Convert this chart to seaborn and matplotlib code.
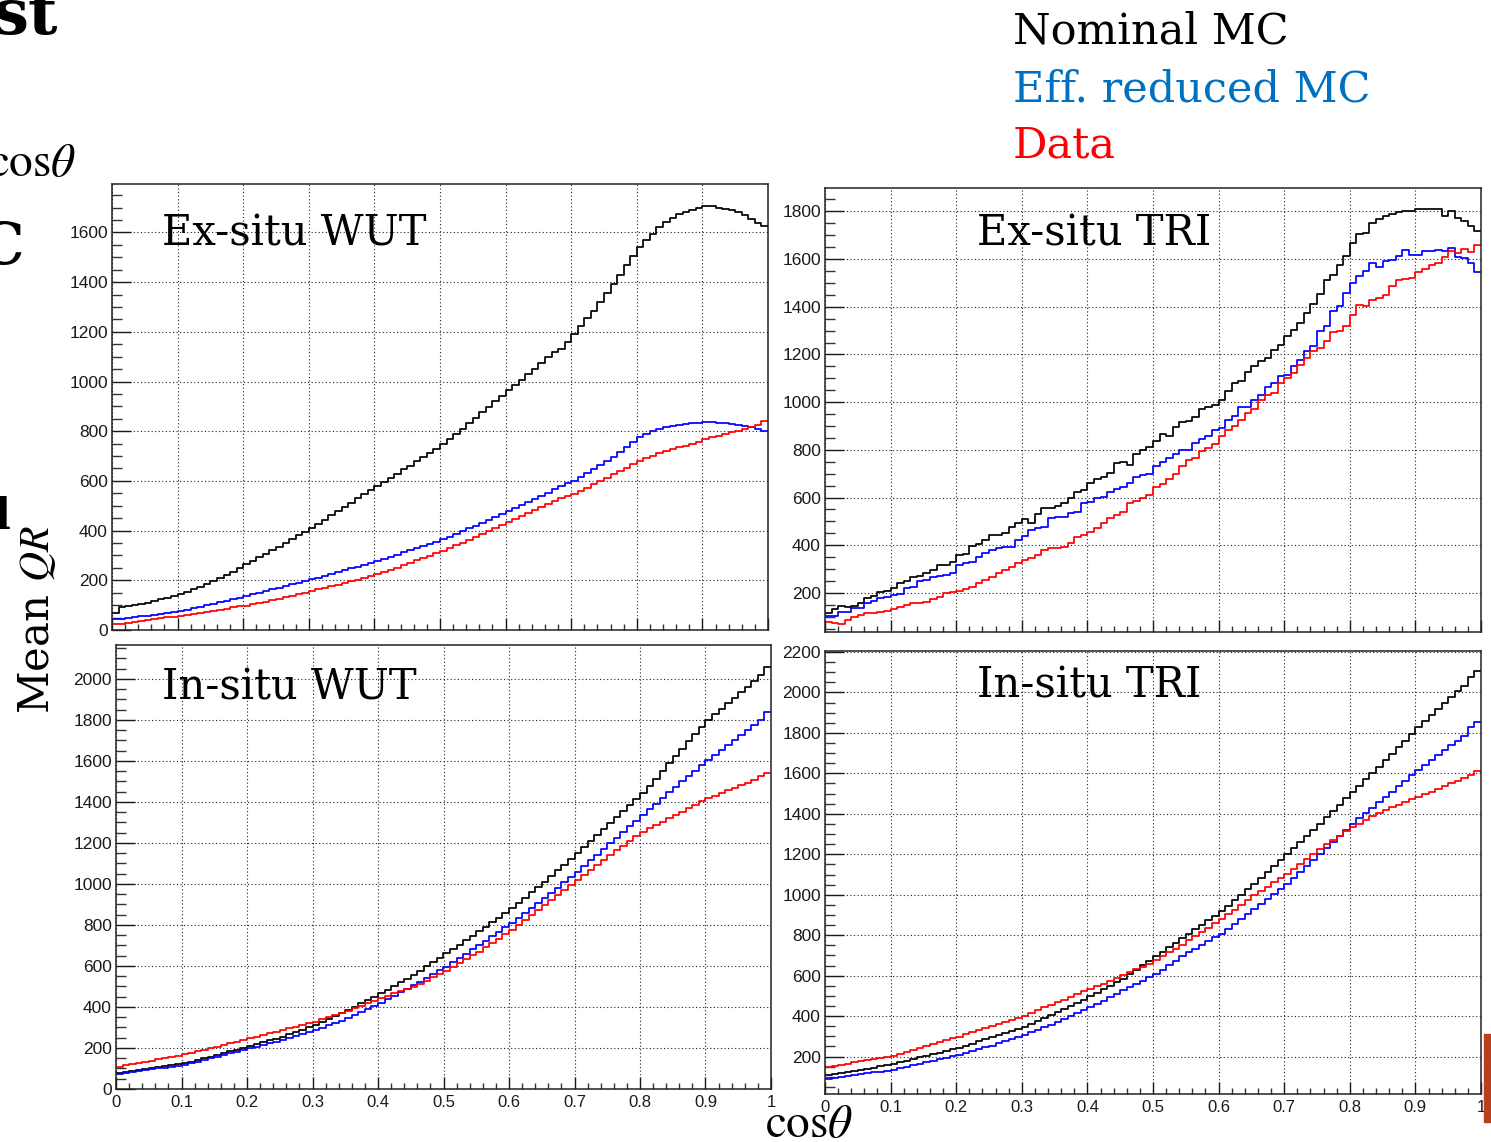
import numpy as np
import matplotlib
matplotlib.use("Agg")
import matplotlib.pyplot as plt
import seaborn as sns
from matplotlib.ticker import MultipleLocator, FuncFormatter
from matplotlib.patches import Rectangle

# ---------------------------------------------------------------------------
# Mean QR profiles in 100 bins of cos(theta), 0..1
# ---------------------------------------------------------------------------
cos_centres = (np.arange(100) + 0.5) / 100.0

ex_wut_nominal = [
    70, 92, 95, 99, 104, 110, 116, 123, 130, 137,
    145, 154, 163, 173, 184, 196, 208, 221, 235, 250,
    265, 278, 292, 306, 322, 336, 350, 366, 382, 396,
    412, 428, 444, 462, 478, 496, 512, 530, 546, 562,
    580, 596, 612, 628, 646, 662, 680, 696, 714, 730,
    748, 768, 790, 810, 832, 854, 876, 898, 920, 942,
    965, 985, 1005, 1030, 1052, 1075, 1098, 1118, 1130, 1160,
    1192, 1225, 1255, 1282, 1320, 1355, 1394, 1430, 1467, 1505,
    1541, 1570, 1595, 1620, 1641, 1660, 1675, 1684, 1691, 1698,
    1706, 1708, 1700, 1695, 1690, 1682, 1670, 1655, 1640, 1624,
]
ex_wut_reduced = [
    43, 46, 49, 52, 55, 58, 61, 65, 69, 73,
    77, 82, 87, 93, 99, 105, 111, 118, 124, 130,
    137, 143, 150, 156, 163, 170, 177, 184, 191, 197,
    204, 211, 218, 225, 233, 240, 248, 255, 263, 270,
    278, 286, 294, 303, 312, 321, 330, 338, 347, 356,
    365, 376, 387, 398, 409, 420, 432, 443, 455, 466,
    478, 490, 502, 514, 527, 540, 553, 566, 578, 590,
    600, 615, 632, 648, 663, 680, 698, 716, 735, 755,
    775, 788, 800, 808, 815, 820, 825, 829, 832, 834,
    836, 836, 835, 833, 829, 826, 822, 815, 808, 800,
]
ex_wut_data = [
    23, 26, 29, 32, 35, 39, 43, 47, 51, 54,
    56, 60, 64, 68, 72, 77, 81, 86, 91, 95,
    97, 103, 108, 114, 120, 126, 132, 138, 144, 150,
    157, 163, 170, 176, 183, 190, 196, 203, 210, 217,
    224, 233, 242, 251, 260, 270, 280, 289, 299, 308,
    318, 329, 341, 352, 364, 376, 388, 400, 411, 423,
    435, 446, 458, 470, 482, 494, 506, 518, 530, 539,
    547, 560, 573, 587, 600, 613, 627, 640, 654, 668,
    681, 691, 701, 711, 721, 728, 735, 742, 748, 758,
    768, 775, 782, 788, 795, 802, 808, 815, 825, 840,
]

ex_tri_nominal = [
    117, 131, 145, 140, 145, 159, 178, 187, 205, 210,
    220, 241, 248, 266, 271, 282, 296, 317, 317, 331,
    359, 364, 397, 406, 422, 443, 443, 450, 476, 492,
    509, 495, 532, 555, 555, 566, 579, 597, 625, 632,
    660, 677, 688, 702, 744, 747, 737, 784, 798, 812,
    835, 868, 859, 896, 915, 919, 938, 971, 980, 989,
    1010, 1045, 1080, 1087, 1125, 1150, 1172, 1185, 1220, 1241,
    1276, 1304, 1332, 1374, 1410, 1452, 1514, 1535, 1577, 1612,
    1668, 1703, 1710, 1752, 1769, 1780, 1790, 1797, 1801, 1800,
    1808, 1808, 1811, 1811, 1780, 1801, 1773, 1759, 1740, 1717,
]
ex_tri_reduced = [
    103, 103, 121, 121, 135, 135, 156, 168, 178, 184,
    191, 196, 219, 226, 248, 254, 268, 271, 275, 282,
    317, 324, 331, 352, 366, 380, 387, 392, 394, 420,
    439, 464, 471, 476, 514, 517, 520, 534, 541, 579,
    583, 597, 604, 625, 635, 646, 660, 688, 695, 700,
    733, 747, 765, 784, 798, 800, 828, 845, 859, 884,
    891, 924, 943, 980, 980, 1010, 1031, 1064, 1080, 1108,
    1115, 1150, 1178, 1213, 1237, 1297, 1318, 1381, 1402, 1458,
    1500, 1528, 1549, 1584, 1568, 1591, 1598, 1612, 1638, 1615,
    1615, 1633, 1633, 1636, 1633, 1647, 1610, 1605, 1582, 1545,
]
ex_tri_data = [
    79, 75, 70, 86, 98, 107, 114, 117, 121, 126,
    131, 142, 149, 156, 156, 163, 173, 184, 198, 205,
    210, 215, 226, 240, 252, 268, 282, 296, 310, 327,
    338, 345, 359, 380, 387, 390, 394, 408, 436, 443,
    457, 471, 492, 514, 527, 541, 576, 587, 597, 611,
    646, 658, 677, 700, 733, 756, 765, 793, 807, 826,
    856, 884, 898, 926, 954, 971, 1010, 1031, 1038, 1080,
    1100, 1122, 1157, 1185, 1213, 1227, 1255, 1293, 1297, 1318,
    1367, 1409, 1402, 1430, 1437, 1451, 1486, 1514, 1517, 1521,
    1545, 1559, 1577, 1584, 1610, 1633, 1624, 1643, 1629, 1661,
]

in_wut_nominal = [
    80, 84, 88, 92, 96, 101, 106, 111, 116, 121,
    125, 133, 141, 149, 157, 166, 175, 184, 192, 201,
    210, 219, 228, 237, 246, 255, 266, 278, 289, 300,
    312, 326, 340, 355, 370, 385, 401, 418, 434, 450,
    467, 485, 503, 521, 538, 556, 577, 598, 620, 641,
    662, 683, 704, 726, 747, 768, 790, 813, 836, 858,
    881, 907, 933, 959, 985, 1011, 1039, 1067, 1094, 1122,
    1150, 1179, 1208, 1238, 1267, 1296, 1325, 1354, 1384, 1413,
    1442, 1478, 1514, 1550, 1588, 1625, 1660, 1695, 1730, 1765,
    1800, 1828, 1855, 1882, 1908, 1935, 1962, 1990, 2018, 2060,
]
in_wut_reduced = [
    73, 78, 82, 87, 91, 96, 100, 104, 108, 113,
    117, 125, 133, 141, 150, 158, 166, 174, 182, 190,
    198, 206, 214, 222, 231, 239, 249, 259, 268, 278,
    288, 299, 311, 322, 334, 345, 360, 375, 390, 405,
    420, 437, 454, 471, 488, 505, 523, 541, 560, 578,
    597, 618, 639, 660, 681, 702, 724, 746, 767, 789,
    811, 835, 859, 883, 907, 930, 956, 982, 1008, 1034,
    1060, 1088, 1115, 1143, 1170, 1198, 1226, 1254, 1281, 1309,
    1337, 1365, 1392, 1420, 1447, 1475, 1501, 1527, 1553, 1579,
    1605, 1629, 1654, 1678, 1703, 1727, 1750, 1773, 1800, 1840,
]
in_wut_data = [
    109, 115, 121, 126, 132, 138, 144, 150, 157, 163,
    169, 177, 184, 192, 199, 207, 215, 223, 231, 239,
    247, 255, 263, 272, 280, 288, 296, 304, 312, 320,
    328, 339, 350, 360, 371, 382, 394, 406, 418, 430,
    442, 454, 466, 477, 488, 499, 514, 529, 545, 560,
    575, 594, 613, 632, 651, 670, 691, 712, 733, 754,
    776, 800, 825, 849, 874, 898, 922, 947, 971, 996,
    1020, 1044, 1068, 1093, 1117, 1141, 1164, 1187, 1209, 1232,
    1255, 1271, 1288, 1304, 1321, 1337, 1353, 1369, 1386, 1402,
    1418, 1431, 1444, 1457, 1470, 1483, 1494, 1506, 1528, 1542,
]

in_tri_nominal = [
    111, 116, 120, 125, 129, 134, 140, 146, 152, 158,
    164, 172, 180, 189, 197, 205, 213, 220, 228, 235,
    243, 254, 264, 275, 285, 296, 306, 317, 327, 338,
    348, 362, 377, 391, 406, 420, 435, 451, 466, 482,
    497, 515, 532, 550, 567, 585, 607, 629, 651, 673,
    695, 717, 740, 762, 785, 807, 829, 852, 874, 897,
    919, 946, 973, 1001, 1028, 1055, 1084, 1113, 1142, 1171,
    1200, 1230, 1261, 1291, 1322, 1352, 1383, 1414, 1446, 1477,
    1508, 1539, 1571, 1602, 1634, 1665, 1697, 1730, 1762, 1795,
    1827, 1857, 1888, 1918, 1949, 1979, 2005, 2032, 2075, 2105,
]
in_tri_reduced = [
    89, 94, 99, 104, 109, 114, 118, 122, 126, 130,
    134, 142, 149, 157, 164, 172, 180, 187, 195, 202,
    210, 219, 228, 236, 245, 254, 265, 276, 287, 298,
    309, 321, 333, 346, 358, 370, 385, 400, 414, 429,
    444, 461, 477, 494, 510, 527, 543, 560, 576, 593,
    609, 630, 652, 673, 695, 716, 734, 752, 771, 789,
    807, 832, 857, 881, 906, 931, 956, 981, 1005, 1030,
    1055, 1085, 1114, 1144, 1173, 1203, 1233, 1263, 1292, 1322,
    1352, 1378, 1405, 1431, 1458, 1484, 1510, 1537, 1563, 1590,
    1616, 1641, 1665, 1690, 1714, 1739, 1762, 1785, 1830, 1852,
]
in_tri_data = [
    147, 153, 159, 165, 171, 177, 183, 188, 194, 199,
    205, 215, 225, 234, 244, 254, 263, 272, 281, 290,
    299, 310, 321, 331, 342, 353, 363, 373, 383, 393,
    403, 416, 429, 443, 456, 469, 482, 495, 509, 522,
    535, 548, 561, 575, 588, 601, 616, 631, 645, 660,
    675, 695, 715, 734, 754, 774, 795, 817, 838, 860,
    881, 904, 927, 951, 974, 997, 1018, 1040, 1061, 1083,
    1104, 1129, 1154, 1178, 1203, 1228, 1249, 1271, 1292, 1314,
    1335, 1352, 1369, 1387, 1404, 1421, 1434, 1446, 1459, 1471,
    1484, 1497, 1510, 1524, 1537, 1550, 1563, 1576, 1590, 1612,
]

panel_titles = ["Ex-situ WUT", "Ex-situ TRI", "In-situ WUT", "In-situ TRI"]
legend_labels = ["Nominal MC", "Eff. reduced MC", "Data"]

# ---------------------------------------------------------------------------
sns.set_style("white")
plt.rcParams["font.family"] = ["Liberation Sans", "DejaVu Sans"]
plt.rcParams["mathtext.fontset"] = "stix"

W, H = 1491, 1142
fig = plt.figure(figsize=(W / 100, H / 100), dpi=100)


def px_axes(left, top, right, bottom):
    return fig.add_axes([left / W, 1 - bottom / H, (right - left) / W, (bottom - top) / H])


def fig_text(x, y, s, **kw):
    return fig.text(x / W, 1 - y / H, s, **kw)


line_colors = ["#000000", "#0000ff", "#ff0000"]

panels = [
    # title, series, frame (l, t, r, b) in px, ylim, title anchor, x labels
    (panel_titles[0], (ex_wut_nominal, ex_wut_reduced, ex_wut_data),
     (112, 184, 768, 630), (0, 1795), (162, 246), False),
    (panel_titles[1], (ex_tri_nominal, ex_tri_reduced, ex_tri_data),
     (825, 188, 1481, 632), (36, 1898), (977, 246), False),
    (panel_titles[2], (in_wut_nominal, in_wut_reduced, in_wut_data),
     (116, 645, 771, 1089), (0, 2165), (162, 700), True),
    (panel_titles[3], (in_tri_nominal, in_tri_reduced, in_tri_data),
     (825, 651, 1481, 1094), (15, 2205), (977, 698), True),
]


def xfmt(v, _):
    v = round(v, 2)
    if abs(v) < 1e-9:
        return "0"
    if abs(v - 1) < 1e-9:
        return "1"
    return f"{v:.1f}"


for title, series, frame, ylim, tpos, show_x in panels:
    ax = px_axes(*frame)
    for values, color in zip(series, line_colors):
        sns.histplot(x=cos_centres, weights=values, bins=100, binrange=(0, 1),
                     element="step", fill=False, color=color, linewidth=1.25,
                     ax=ax)
    ax.set_xlim(0, 1)
    ax.set_ylim(*ylim)
    ax.set_xlabel("")
    ax.set_ylabel("")

    ax.xaxis.set_major_locator(MultipleLocator(0.1))
    ax.xaxis.set_minor_locator(MultipleLocator(0.02))
    ax.yaxis.set_major_locator(MultipleLocator(200))
    ax.yaxis.set_minor_locator(MultipleLocator(50))
    ax.xaxis.set_major_formatter(FuncFormatter(xfmt))

    ax.grid(True, which="major", color="#222222", linestyle=(0, (1, 2.2)),
            linewidth=0.8)
    ax.set_axisbelow(True)

    ax.tick_params(axis="y", which="major", direction="in", length=13.5,
                   width=1.0, labelsize=12.5, pad=3, colors="#1a1a1a",
                   right=False, left=True)
    ax.tick_params(axis="y", which="minor", direction="in", length=7,
                   width=1.0, right=False, left=True, colors="#333333")
    ax.tick_params(axis="x", which="major", direction="in", length=9,
                   width=1.0, labelsize=12, pad=4, colors="#1a1a1a",
                   top=False, bottom=True, labelbottom=show_x)
    ax.tick_params(axis="x", which="minor", direction="in", length=4.5,
                   width=1.0, top=False, bottom=True, colors="#333333")
    for sp in ax.spines.values():
        sp.set_visible(True)
        sp.set_color("#222222")
        sp.set_linewidth(1.1)

    fig_text(tpos[0], tpos[1], title, family="DejaVu Serif", fontsize=30,
             color="black", ha="left", va="baseline")

# legend-style labels at the top right
legend_colors = ["#000000", "#0070c0", "#ff0000"]
for label, color, yb in zip(legend_labels, legend_colors, [44, 102, 158]):
    fig_text(1013, yb, label, family="DejaVu Serif", fontsize=31,
             color=color, ha="left", va="baseline")

# axis titles shared by the four panels
fig_text(37, 620, r"Mean $QR$", family="DejaVu Serif", fontsize=30,
         rotation=90, ha="center", va="center", color="black")
fig_text(765, 1137, r"$\mathrm{cos}\theta$", fontsize=34, ha="left",
         va="baseline", color="black")

# neighbouring slide content cut by the figure border
fig_text(-12, 176, r"$\mathrm{cos}\theta$", fontsize=34, ha="left",
         va="baseline", color="black")
fig_text(-8, 34, "st", family="DejaVu Serif", fontweight="bold",
         fontsize=46, ha="left", va="baseline", color="black")
fig_text(-22, 264, "C", family="DejaVu Serif", fontweight="bold",
         fontsize=42, ha="left", va="baseline", color="black")
fig_text(-5, 529, "l", family="DejaVu Serif", fontweight="bold",
         fontsize=30, ha="left", va="baseline", color="black")
fig.patches.append(Rectangle((1484 / W, 1 - 1122 / H), 8 / W, 88 / H,
                             transform=fig.transFigure, color="#b9401e",
                             zorder=0))

fig.savefig("out.png", dpi=100, facecolor="white")
